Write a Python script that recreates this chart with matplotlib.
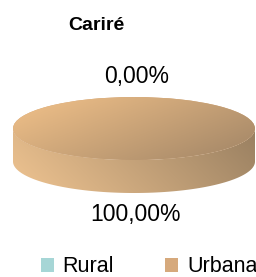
import numpy as np
import matplotlib
matplotlib.use("Agg")
import matplotlib.pyplot as plt
from matplotlib.patches import Polygon, Rectangle

plt.rcParams['font.family'] = ['Liberation Sans', 'DejaVu Sans']

# data
title = "Cariré"
categories = ["Rural", "Urbana"]
values = [0.0, 100.0]
pct_labels = ["0,00%", "100,00%"]
colors = ["#a6d6d6", "#d6a97c"]

W, H = 256, 277
fig = plt.figure(figsize=(W / 100, H / 100), dpi=100)

# axes covering the 3d pie (top face + side)
thick = 33 / 31.5
ax = fig.add_axes([13 / W, (H - 193) / H, 242 / W, 96 / H])
wedges, _ = ax.pie(values, colors=colors, radius=1, startangle=90,
                   counterclock=False, wedgeprops=dict(linewidth=0))
ax.set_aspect('auto')
ax.axis('off')


def gradient(c1, c2, angle, n=200):
    xs, ys = np.meshgrid(np.linspace(0, 1, n), np.linspace(0, 1, n))
    t = xs * np.cos(angle) + (1 - ys) * np.sin(angle)
    t = (t - t.min()) / (t.max() - t.min())
    c1, c2 = np.array(c1), np.array(c2)
    return c1 + (c2 - c1) * t[..., None]


# side band (front half of the cylinder)
th = np.linspace(np.pi, 2 * np.pi, 200)
xs = np.cos(th)
ys = np.sin(th)
side = Polygon(np.column_stack([np.r_[xs, xs[::-1]], np.r_[ys, ys[::-1] - thick]]),
               closed=True, facecolor='none', edgecolor='none')
ax.add_patch(side)
img = ax.imshow(gradient((0.94, 0.77, 0.57), (0.60, 0.50, 0.38), 0.25),
                extent=(-1, 1, -1 - thick, 0), origin='upper', aspect='auto', zorder=1)
img.set_clip_path(side)

# top face gradient clipped to each wedge
for w, v in zip(wedges, values):
    if v <= 0:
        continue
    w.set_zorder(2)
    im = ax.imshow(gradient((0.95, 0.76, 0.54), (0.63, 0.52, 0.40), -0.55),
                   extent=(-1, 1, -1, 1), origin='upper', aspect='auto', zorder=3)
    im.set_clip_path(w)

ax.set_xlim(-1, 1)
ax.set_ylim(-1 - thick, 1)

# texts
fig.text(96 / W, 1 - 25 / H, title, ha='center', va='center',
         fontsize=14, fontweight='bold')
fig.text(137 / W, 1 - 77 / H, pct_labels[0], ha='center', va='center', fontsize=16.5)
fig.text(136 / W, 1 - 215 / H, pct_labels[1], ha='center', va='center', fontsize=16.5)

handles = [Rectangle((0, 0), 1, 1, facecolor=c, edgecolor='none') for c in colors]
fig.legend(handles, categories, loc='center', bbox_to_anchor=(149 / W, 1 - 267 / H),
           ncol=2, frameon=False, fontsize=15.5, handlelength=0.6, handleheight=0.6,
           handletextpad=0.4, columnspacing=2.4, borderpad=0, borderaxespad=0)

fig.savefig("out.png", dpi=100)
